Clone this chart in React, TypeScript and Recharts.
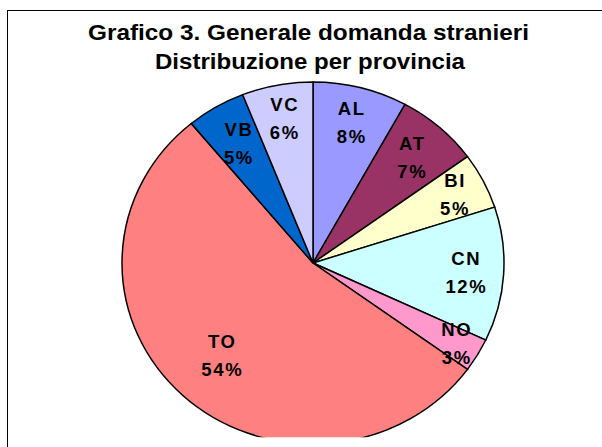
import { PieChart, Pie, Cell } from "recharts";

const PROVINCES = ["AL", "AT", "BI", "CN", "NO", "TO", "VB", "VC"];
const SHARES = [8, 7, 5, 12, 3, 54, 5, 6];
const TITLE_LINES = [
  "Grafico 3. Generale domanda stranieri",
  "Distribuzione per provincia",
];

const COLORS = [
  "#9999FF",
  "#993366",
  "#FFFFCC",
  "#CCFFFF",
  "#FF99CC",
  "#FF8080",
  "#0066CC",
  "#CCCCFF",
];

// label distance from the centre, as a fraction of the radius
const LABEL_POS = [0.8, 0.78, 0.83, 0.8, 0.87, 0.7, 0.77, 0.81];

// title layout: [centre x, baseline y, width]
const TITLE_BOX = [
  [308.5, 40, 441],
  [310, 69, 310],
];

const FONT = "'Liberation Sans', Arial, sans-serif";
const CX = 313;
const CY = 263;
const RX = 191;
const RY = 181;
const SQUASH = RY / RX;

const data = PROVINCES.map((name, i) => ({ name, value: SHARES[i] }));

const renderLabel = (props: any) => {
  const { cx, cy, midAngle, outerRadius, percent, index, name } = props;
  const rad = (Math.PI / 180) * midAngle;
  const r = outerRadius * LABEL_POS[index];
  const x = cx + r * Math.cos(rad);
  const y = cy - r * Math.sin(rad);
  const common = {
    x: 0.8,
    textAnchor: "middle" as const,
    dominantBaseline: "central" as const,
    fontFamily: FONT,
    fontWeight: "bold",
    fontSize: 18.5,
    letterSpacing: 1.6,
    fill: "#000",
  };
  return (
    <g transform={`translate(${x},${y}) scale(1,${1 / SQUASH})`}>
      <text {...common} y={-14}>
        {name}
      </text>
      <text {...common} y={14}>
        {`${Math.round(percent * 100)}%`}
      </text>
    </g>
  );
};

export default function App() {
  return (
    <div
      style={{
        position: "absolute",
        left: 0,
        top: 0,
        width: 602,
        height: 447,
        overflow: "hidden",
        background: "#fff",
      }}
    >
      <div
        style={{
          position: "absolute",
          left: 7,
          top: 10,
          width: 700,
          height: 600,
          border: "1px solid #000",
        }}
      />
      <div
        style={{
          position: "absolute",
          left: 0,
          top: 0,
          width: 602,
          height: 447,
          transform: `scale(1, ${SQUASH})`,
          transformOrigin: `${CX}px ${CY}px`,
        }}
      >
        <PieChart
          width={602}
          height={447}
          margin={{ top: 0, right: 0, bottom: 0, left: 0 }}
        >
          <Pie
            data={data}
            dataKey="value"
            nameKey="name"
            cx={CX}
            cy={CY}
            outerRadius={RX}
            startAngle={90}
            endAngle={-270}
            stroke="#000"
            strokeWidth={1.5}
            label={renderLabel}
            labelLine={false}
            isAnimationActive={false}
          >
            {data.map((_, i) => (
              <Cell key={i} fill={COLORS[i]} />
            ))}
          </Pie>
        </PieChart>
      </div>
      <svg
        width={602}
        height={447}
        style={{ position: "absolute", left: 0, top: 0, pointerEvents: "none" }}
      >
        {TITLE_LINES.map((t, i) => (
          <text
            key={i}
            x={TITLE_BOX[i][0]}
            y={TITLE_BOX[i][1]}
            textAnchor="middle"
            textLength={TITLE_BOX[i][2]}
            lengthAdjust="spacingAndGlyphs"
            fontFamily={FONT}
            fontWeight="bold"
            fontSize={22}
            fill="#000"
          >
            {t}
          </text>
        ))}
      </svg>
    </div>
  );
}
